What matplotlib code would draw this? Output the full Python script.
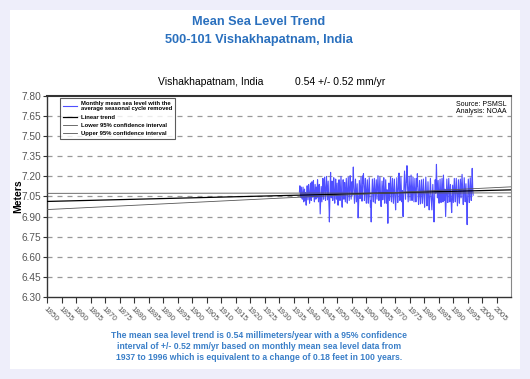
import numpy as np
import matplotlib
matplotlib.use("Agg")
import matplotlib.pyplot as plt
from matplotlib.patches import Rectangle

plt.rcParams['font.family'] = ['Liberation Sans', 'DejaVu Sans']

# Monthly mean sea level (mm), seasonal cycle removed, 1937-1996
start_year = 1937
monthly_mm = [
    7085, 7110, 7130, 7095, 7060, 7045, 7070, 7100, 7120, 7080, 7040, 7055,
    7030, 7065, 7090, 7120, 7075, 7040, 7010, 7050, 7085, 7105, 7060, 7020,
    7045, 7080, 7060, 7010, 6985, 7030, 7070, 7095, 7130, 7090, 7050, 7025,
    7060, 7100, 7140, 7110, 7070, 7035, 7000, 7040, 7075, 7120, 7150, 7090,
    7050, 7020, 7065, 7110, 7160, 7130, 7080, 7045, 7075, 7115, 7170, 7100,
    7060, 7030, 7010, 7055, 7095, 7140, 7105, 7065, 7030, 7070, 7120, 7085,
    7040, 7075, 7125, 7175, 7130, 7085, 7050, 7010, 7045, 7090, 7140, 7100,
    7055, 7000, 6920, 6975, 7030, 7080, 7125, 7090, 7050, 7010, 7060, 7110,
    7150, 7185, 7120, 7070, 7030, 7065, 7110, 7160, 7195, 7140, 7090, 7050,
    7020, 7060, 7105, 7150, 7200, 7155, 7100, 7060, 7025, 7070, 7120, 7165,
    7110, 7060, 7010, 6940, 6860, 6960, 7050, 7120, 7180, 7230, 7150, 7080,
    7040, 7075, 7120, 7165, 7110, 7060, 7020, 7055, 7100, 7145, 7190, 7130,
    7080, 7035, 7000, 7045, 7095, 7140, 7180, 7120, 7070, 7030, 7065, 7110,
    7150, 7100, 7050, 7010, 6985, 7040, 7090, 7135, 7175, 7130, 7085, 7045,
    7020, 7070, 7115, 7160, 7200, 7145, 7090, 7040, 6990, 6970, 7030, 7085,
    7130, 7175, 7120, 7070, 7030, 7065, 7110, 7155, 7100, 7050, 7010, 7050,
    7095, 7140, 7185, 7130, 7080, 7040, 7000, 7045, 7090, 7140, 7195, 7150,
    7100, 7055, 7020, 7060, 7105, 7150, 7205, 7160, 7110, 7065, 7030, 7070,
    7115, 7160, 7110, 7060, 7100, 7150, 7210, 7270, 7190, 7120, 7070, 7030,
    7000, 7050, 7095, 7140, 7180, 7130, 7080, 7040, 7010, 7055, 7100, 7145,
    7090, 7040, 6970, 6890, 6950, 7020, 7080, 7130, 7170, 7120, 7075, 7035,
    7060, 7105, 7150, 7195, 7140, 7090, 7050, 7015, 7060, 7110, 7160, 7205,
    7150, 7220, 7165, 7110, 7060, 7020, 7055, 7100, 7145, 7185, 7130, 7080,
    7040, 7000, 7040, 7085, 7130, 7175, 7125, 7075, 7035, 7000, 7050, 7100,
    7145, 7190, 7135, 7085, 7040, 7005, 6970, 7020, 6940, 6860, 6960, 7040,
    7090, 7135, 7180, 7130, 7080, 7040, 7010, 7050, 7095, 7140, 7185, 7130,
    7080, 7040, 7000, 7045, 7090, 7135, 7175, 7120, 7070, 7030, 7070, 7115,
    7160, 7205, 7150, 7100, 7055, 7020, 7060, 7105, 7150, 7195, 7140, 7090,
    7050, 7010, 6975, 7025, 7075, 7120, 7165, 7115, 7065, 7025, 7060, 7105,
    7150, 7190, 7135, 7085, 7040, 7000, 7040, 7085, 7130, 7175, 7125, 7075,
    7035, 7000, 7050, 7100, 7010, 6930, 6850, 6950, 7040, 7100, 7150, 7105,
    7060, 7020, 7060, 7105, 7150, 7195, 7140, 7090, 7045, 7010, 7055, 7100,
    7145, 7185, 7130, 7080, 7035, 7000, 7045, 7090, 7135, 7180, 7125, 7075,
    7030, 6990, 6950, 7000, 7050, 7100, 7145, 7190, 7135, 7085, 7040, 7005,
    7045, 7090, 7135, 7180, 7225, 7160, 7105, 7060, 7020, 7060, 7105, 7150,
    7195, 7140, 7090, 7045, 7010, 7050, 7095, 7000, 6950, 6900, 6980, 7050,
    7100, 7150, 7200, 7240, 7180, 7120, 7070, 7030, 7075, 7120, 7170, 7215,
    7160, 7280, 7200, 7140, 7090, 7050, 7010, 7055, 7100, 7150, 7200, 7150,
    7100, 7055, 7020, 7065, 7110, 7160, 7210, 7150, 7100, 7055, 7020, 7060,
    7105, 7150, 7195, 7145, 7095, 7050, 7010, 7050, 7095, 7140, 7185, 7135,
    7085, 7045, 7010, 7050, 7095, 7140, 7185, 7130, 7220, 7160, 7105, 7060,
    7020, 6990, 7035, 7080, 7125, 7170, 7120, 7070, 7030, 6995, 7040, 7085,
    7130, 7175, 7125, 7075, 7035, 7000, 7045, 7090, 7135, 7180, 7130, 7080,
    7040, 7005, 6970, 7015, 7060, 7105, 7150, 7195, 7145, 7095, 7050, 7010,
    6980, 7025, 7070, 7115, 7160, 7110, 7060, 7020, 6985, 6950, 7000, 7050,
    7095, 7140, 7185, 7135, 7085, 7045, 7010, 6975, 6950, 7000, 7050, 7095,
    7140, 7090, 7040, 7000, 6950, 6860, 6940, 7020, 7080, 7130, 7175, 7125,
    7075, 7140, 7210, 7290, 7200, 7130, 7080, 7040, 7080, 7125, 7170, 7120,
    7070, 7030, 7000, 7045, 7090, 7135, 7180, 7130, 7080, 7040, 7005, 7050,
    7095, 7140, 7185, 7135, 7085, 7045, 7010, 7050, 7210, 7150, 7100, 7060,
    7020, 7060, 7105, 7040, 6980, 6900, 6960, 7030, 7090, 7135, 7180, 7130,
    7080, 7040, 7005, 7050, 7095, 7140, 7185, 7135, 7085, 7045, 7010, 7050,
    7095, 7140, 7090, 7040, 7000, 6960, 6930, 6980, 7040, 7090, 7135, 7085,
    7040, 7005, 7050, 7095, 7140, 7185, 7135, 7085, 7045, 7010, 7050, 7095,
    7140, 7185, 7135, 7085, 7045, 7010, 6980, 7030, 7080, 7130, 7175, 7125,
    7075, 7035, 7000, 7045, 7090, 7135, 7180, 7130, 7080, 7040, 7080, 7125,
    7170, 7215, 7160, 7110, 7060, 7020, 6990, 7040, 7090, 7140, 7190, 7135,
    7085, 7045, 7010, 7055, 7100, 7145, 7095, 7045, 6990, 6920, 6840, 6950,
    7040, 7090, 7135, 7180, 7130, 7080, 7040, 7005, 7050, 7095, 7140, 7190,
    7140, 7090, 7050, 7020, 7060, 7120, 7190, 7260, 7180, 7120, 7080, 7060,
]

# trend (mm/yr) and 95% confidence interval, pivoting on the middle of the record
trend_mm_yr = 0.54
ci_mm_yr = 0.52
pivot_year = 1966.5
pivot_level = 7.076  # m

msl = np.array(monthly_mm) / 1000.0
years = start_year + (np.arange(len(msl)) + 0.5) / 12.0

line_years = np.array([1850, 2010])
trend = pivot_level + trend_mm_yr / 1000 * (line_years - pivot_year)
lower = pivot_level + (trend_mm_yr - ci_mm_yr) / 1000 * (line_years - pivot_year)
upper = pivot_level + (trend_mm_yr + ci_mm_yr) / 1000 * (line_years - pivot_year)

W, H = 530, 379
fig = plt.figure(figsize=(W / 100, H / 100), dpi=100)
fig.patch.set_facecolor('#EEEEFA')
fig.patches.append(Rectangle((10 / W, 1 - 369 / H), 510 / W, 359 / H,
                             transform=fig.transFigure, facecolor='white',
                             edgecolor='none', zorder=-10))

title_color = '#2A70BE'
fig.text(259 / W, 1 - 22 / H, 'Mean Sea Level Trend', ha='center', va='center',
         fontsize=9.2, fontweight='bold', color=title_color)
fig.text(259 / W, 1 - 39.5 / H, '500-101 Vishakhapatnam, India', ha='center', va='center',
         fontsize=9.2, fontweight='bold', color=title_color)
fig.text(158 / W, 1 - 82 / H, 'Vishakhapatnam, India', ha='left', va='center',
         fontsize=7.5, color='black')
fig.text(295 / W, 1 - 82 / H, '0.54 +/- 0.52 mm/yr', ha='left', va='center',
         fontsize=7.5, color='black')

ax = fig.add_axes([47 / W, 1 - 297 / H, 464 / W, 201 / H])
ax.set_zorder(1)
ax.plot(years, msl, color='#4F4FFF', lw=0.8,
        label='Monthly mean sea level with the\naverage seasonal cycle removed', zorder=3)
ax.plot(line_years, trend, color='black', lw=0.9, label='Linear trend', zorder=4)
ax.plot(line_years, lower, color='#555555', lw=0.6, label='Lower 95% confidence interval', zorder=4)
ax.plot(line_years, upper, color='#555555', lw=0.6, label='Upper 95% confidence interval', zorder=4)

ax.set_xlim(1850, 2010)
ax.set_ylim(6.30, 7.80)
yt = np.round(np.arange(6.30, 7.801, 0.15), 2)
ax.set_yticks(yt)
ax.set_yticklabels([f'{v:.2f}' for v in yt], fontsize=7.3, color='#555555')
ax.set_xticks(np.arange(1850, 2006, 5))
ax.set_xticklabels([str(y) for y in range(1850, 2006, 5)], rotation=-45,
                   ha='left', va='top', rotation_mode='anchor', fontsize=5.8, color='#555555')
ax.tick_params(axis='y', length=3, width=0.8, color='#333333', pad=1)
ax.tick_params(axis='x', length=4, width=0.8, color='#333333', pad=2)
for v in yt[1:-1]:
    ax.axhline(v, color='#999999', lw=0.9, dashes=(4, 4), zorder=1)

for side in ['left', 'bottom', 'top']:
    ax.spines[side].set_color('#333333')
    ax.spines[side].set_linewidth(1.0)
ax.spines['top'].set_linewidth(1.5)
ax.spines['right'].set_color('#888888')

ax.set_ylabel('Meters', fontsize=7.5, fontweight='bold', labelpad=-1)

leg = ax.legend(loc='upper left', bbox_to_anchor=(0.028, 0.99), borderaxespad=0,
                frameon=True, fancybox=False, edgecolor='#333333',
                handlelength=2.4, handletextpad=0.7, borderpad=0.45,
                labelspacing=0.55, prop={'size': 4.2, 'weight': 'bold'})
leg.get_frame().set_linewidth(0.8)

ax.text(0.99, 0.975, 'Source: PSMSL\nAnalysis: NOAA', transform=ax.transAxes,
        ha='right', va='top', fontsize=5, linespacing=1.0)

note = ('The mean sea level trend is 0.54 millimeters/year with a 95% confidence\n'
        'interval of +/- 0.52 mm/yr based on monthly mean sea level data from\n'
        '1937 to 1996 which is equivalent to a change of 0.18 feet in 100 years.')
fig.text(259 / W, 1 - 346.5 / H, note, ha='center', va='center', fontsize=6.2,
         fontweight='bold', color='#3A7FC8', linespacing=1.25)

fig.savefig('out.png', dpi=100, facecolor=fig.get_facecolor())
